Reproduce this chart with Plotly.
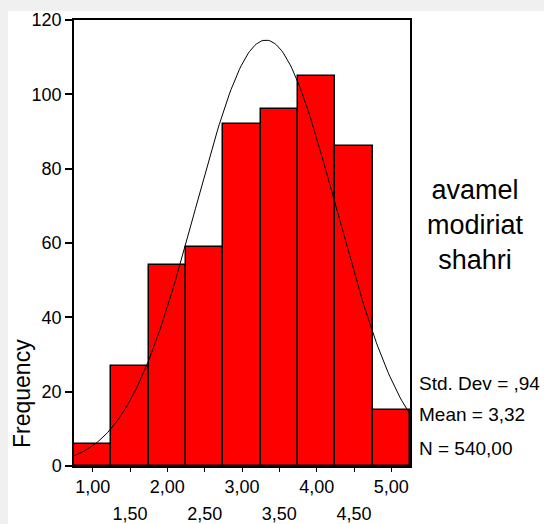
import numpy as np
import plotly.graph_objects as go

# Data
bin_centers = [1.0, 1.5, 2.0, 2.5, 3.0, 3.5, 4.0, 4.5, 5.0]
frequencies = [6, 27, 54, 59, 92, 96, 105, 86, 15]
bin_width = 0.5
mean_val = 3.32
std_val = 0.94
n_val = 540

major_ticks = [1.0, 2.0, 3.0, 4.0, 5.0]
major_labels = ["1,00", "2,00", "3,00", "4,00", "5,00"]
minor_ticks = [1.5, 2.5, 3.5, 4.5]
minor_labels = ["1,50", "2,50", "3,50", "4,50"]
y_ticks = [0, 20, 40, 60, 80, 100, 120]

title_lines = ["avamel", "modiriat", "shahri"]
stats_lines = ["Std. Dev = ,94", "Mean = 3,32", "N = 540,00"]

FONT = "Arial, Liberation Sans, sans-serif"

x_lo = bin_centers[0] - bin_width / 2
x_hi = bin_centers[-1] + bin_width / 2

# Normal curve from displayed statistics
xc = np.linspace(x_lo, x_hi, 200)
yc = n_val * bin_width / (std_val * np.sqrt(2 * np.pi)) * np.exp(-0.5 * ((xc - mean_val) / std_val) ** 2)

fig = go.Figure()
fig.add_trace(go.Bar(
    x=bin_centers, y=frequencies, width=bin_width,
    marker=dict(color="#ff0000", line=dict(color="black", width=1.5)),
    showlegend=False, hoverinfo="skip",
))
fig.add_trace(go.Scatter(
    x=xc, y=yc, mode="lines", line=dict(color="black", width=1),
    showlegend=False, hoverinfo="skip",
))
# invisible trace for secondary x axis (half-step labels)
fig.add_trace(go.Scatter(x=minor_ticks, y=[0] * len(minor_ticks), xaxis="x2",
                         mode="markers", marker=dict(opacity=0), showlegend=False,
                         hoverinfo="skip"))

all_ticks = sorted(major_ticks + minor_ticks)
all_text = [major_labels[major_ticks.index(t)] if t in major_ticks else "" for t in all_ticks]

fig.update_layout(
    width=544, height=524,
    margin=dict(l=74, r=134, t=20, b=58),
    paper_bgcolor="white", plot_bgcolor="white",
    bargap=0,
    font=dict(family=FONT, color="black", size=18),
    xaxis=dict(
        range=[x_lo, x_hi], tickmode="array", tickvals=all_ticks, ticktext=all_text,
        ticks="outside", ticklen=4, tickcolor="black", tickwidth=1,
        showline=True, linecolor="black", linewidth=1.5, mirror=True,
        showgrid=False, zeroline=False, tickfont=dict(size=18, family=FONT),
        ticklabelstandoff=0, automargin=False,
    ),
    xaxis2=dict(
        range=[x_lo, x_hi], overlaying="x", anchor="y", side="bottom",
        tickmode="array", tickvals=minor_ticks, ticktext=minor_labels,
        ticks="", showline=False, showgrid=False, zeroline=False,
        ticklabelstandoff=35, tickfont=dict(size=18, family=FONT), automargin=False,
    ),
    yaxis=dict(
        range=[0, 120], tickmode="array", tickvals=y_ticks,
        ticks="outside", ticklen=7, tickcolor="black", tickwidth=1.5,
        showline=True, linecolor="black", linewidth=1.5, mirror=True,
        showgrid=False, zeroline=False, tickfont=dict(size=18, family=FONT),
        automargin=False,
    ),
)

# light gray border bands of the original screenshot
fig.add_shape(type="rect", xref="paper", yref="paper",
              x0=-74 / 336, x1=(544 - 74) / 336, y0=(466 - 11) / 446, y1=(466) / 446 + 20 / 446,
              fillcolor="#f0f0f0", line=dict(width=0), layer="below")
fig.add_shape(type="rect", xref="paper", yref="paper",
              x0=-74 / 336, x1=(8 - 74) / 336, y0=-58 / 446, y1=(466 - 11) / 446,
              fillcolor="#f0f0f0", line=dict(width=0), layer="below")

def py(ypix):
    return (466 - ypix) / 446

def px(xpix):
    return (xpix - 74) / 336

fig.add_annotation(text="Frequency", xref="paper", yref="paper", x=px(22), y=py(394),
                   textangle=-90, showarrow=False, font=dict(size=23, family=FONT),
                   xanchor="center", yanchor="middle")

fig.add_annotation(text="<br>".join(title_lines), xref="paper", yref="paper",
                   x=px(475), y=py(225), showarrow=False, align="center",
                   font=dict(size=27, family=FONT), xanchor="center", yanchor="middle")

for txt, ypos in zip(stats_lines, [383, 414, 448]):
    fig.add_annotation(text=txt, xref="paper", yref="paper", x=px(417), y=py(ypos),
                       showarrow=False, font=dict(size=19, family=FONT),
                       xanchor="left", yanchor="middle")

fig.write_html("out.html")
